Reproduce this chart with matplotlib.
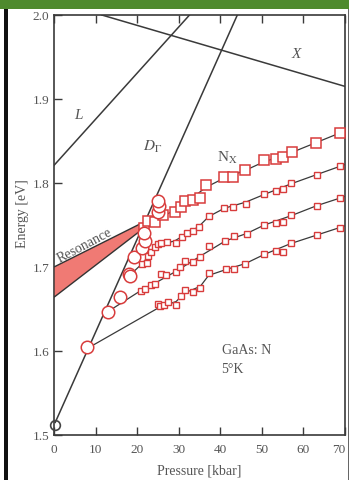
import numpy as np
import matplotlib.pyplot as plt
from matplotlib.patches import Rectangle, Polygon

plt.rcParams['font.family'] = ['Liberation Serif', 'DejaVu Serif']
plt.rcParams['mathtext.fontset'] = 'stix'

# band edges (straight guide lines)
L_P, L_E = [0, 32.6], [1.821, 2.0]
X_P, X_E = [11.5, 70], [2.0, 1.915]
D_P, D_E = [0.3, 44.1], [1.515, 2.0]

# resonance band
res_P = [0, 21, 21, 0]
res_E = [1.700, 1.752, 1.744, 1.664]

# open circles
circ_P = [8.0, 13.0, 15.8, 18.0, 18.2, 19.3, 21.2, 22.0, 21.7, 24.9, 25.3, 25.0]
circ_E = [1.605, 1.647, 1.664, 1.692, 1.689, 1.712, 1.723, 1.731, 1.741, 1.765, 1.773, 1.779]
origin_P, origin_E = [0.3], [1.512]

# N_X (big squares)
s1_P = [21.7, 22.5, 24.2, 26.2, 29.2, 30.6, 31.6, 33.4, 35.2, 36.6, 41.0, 43.0, 46.0,
        50.4, 53.5, 55.2, 57.2, 63.0, 68.8]
s1_E = [1.747, 1.755, 1.754, 1.762, 1.765, 1.771, 1.779, 1.780, 1.782, 1.798, 1.8075, 1.8075,
        1.815, 1.827, 1.828, 1.831, 1.8365, 1.848, 1.860]
# small square series
s2_P = [21.2, 22.3, 22.5, 23.4, 24.2, 25.0, 25.8, 27.3, 29.4, 30.8, 32.1, 33.4, 34.8, 37.2,
        41.0, 43.0, 46.2, 50.4, 53.5, 55.0, 57.0, 63.2, 68.8]
s2_E = [1.704, 1.705, 1.713, 1.718, 1.7235, 1.727, 1.728, 1.730, 1.729, 1.736, 1.740, 1.743,
        1.748, 1.761, 1.770, 1.772, 1.775, 1.7865, 1.790, 1.793, 1.800, 1.810, 1.820]
s3_P = [20.9, 22.0, 23.4, 24.4, 25.7, 27.0, 29.4, 30.2, 31.4, 33.4, 35.2, 37.2, 41.2, 43.2,
        46.4, 50.6, 53.5, 55.2, 57.0, 63.2, 68.8]
s3_E = [1.672, 1.674, 1.678, 1.680, 1.692, 1.690, 1.694, 1.700, 1.7075, 1.706, 1.712, 1.7246,
        1.731, 1.7365, 1.739, 1.750, 1.752, 1.754, 1.762, 1.773, 1.782]
s4_P = [24.9, 25.4, 26.5, 27.4, 29.4, 30.6, 31.4, 33.4, 35.2, 37.2, 41.4, 43.2, 46.0, 50.6,
        53.5, 55.2, 57.0, 63.2, 68.8]
s4_E = [1.656, 1.654, 1.655, 1.658, 1.655, 1.666, 1.673, 1.670, 1.675, 1.6925, 1.6976, 1.698,
        1.7036, 1.716, 1.719, 1.718, 1.728, 1.738, 1.747]

# guide lines through the square series
g1_P = [21, 26, 30, 36.6, 41, 46, 50.4, 57, 63, 70]
g1_E = [1.750, 1.760, 1.770, 1.795, 1.806, 1.815, 1.825, 1.836, 1.848, 1.862]
g2_P = [18.2, 21.2, 25, 29, 34.8, 37.2, 41, 46, 50.4, 57, 63.2, 70]
g2_E = [1.690, 1.704, 1.726, 1.731, 1.748, 1.760, 1.770, 1.777, 1.786, 1.799, 1.810, 1.822]
g3_P = [13, 20.9, 24.4, 29.4, 35.2, 41.2, 46.4, 50.6, 57, 63.2, 70]
g3_E = [1.647, 1.672, 1.681, 1.695, 1.713, 1.731, 1.740, 1.750, 1.761, 1.773, 1.784]
g4_P = [8, 25, 29.4, 31.4, 35.2, 37.2, 41.4, 46, 50.6, 57, 63.2, 70]
g4_E = [1.603, 1.651, 1.659, 1.669, 1.677, 1.690, 1.697, 1.704, 1.715, 1.728, 1.738, 1.749]

xticks = [0, 10, 20, 30, 40, 50, 60, 70]
yticks = [1.5, 1.6, 1.7, 1.8, 1.9, 2.0]

W, H = 349, 481
fig = plt.figure(figsize=(W / 100, H / 100), dpi=100)
ax = fig.add_axes([54 / W, 1 - 436 / H, 291 / W, 420 / H])

lc = '#3a3a3a'
red = '#d83c3c'
txt = '#555555'

for p, e in [(L_P, L_E), (X_P, X_E), (D_P, D_E)]:
    ax.plot(p, e, color=lc, lw=1.1, zorder=2)
for p, e in [(g1_P, g1_E), (g2_P, g2_E), (g3_P, g3_E), (g4_P, g4_E)]:
    ax.plot(p, e, color=lc, lw=0.9, zorder=2)

ax.add_patch(Polygon(list(zip(res_P, res_E)), closed=True, facecolor='#f07a74',
                     edgecolor='#333333', lw=1.0, zorder=3))

ax.plot(s1_P, s1_E, 's', ms=7.5, mfc='white', mec=red, mew=1.1, ls='none', zorder=4)
for p, e in [(s2_P, s2_E), (s3_P, s3_E), (s4_P, s4_E)]:
    ax.plot(p, e, 's', ms=4.5, mfc='white', mec=red, mew=1.0, ls='none', zorder=4)
ax.plot(circ_P, circ_E, 'o', ms=9, mfc='white', mec=red, mew=1.1, ls='none', zorder=5)
ax.plot(origin_P, origin_E, 'o', ms=7, mfc='none', mec='#444444', mew=1.2, ls='none',
        zorder=5, clip_on=False)

ax.set_xlim(0, 70)
ax.set_ylim(1.5, 2.0)
ax.set_xticks(xticks)
ax.set_yticks(yticks)
ax.set_xticklabels([str(t) for t in xticks])
ax.set_yticklabels(['1.5', '1.6', '1.7', '1.8', '1.9', '2.0'])
ax.tick_params(direction='in', length=6, width=1.0, colors=lc, labelcolor=txt,
               labelsize=9.5, top=True, right=False)
ax.tick_params(axis='x', pad=6)
ax.get_xticklabels()[-1].set_horizontalalignment('right')
for s in ax.spines.values():
    s.set_color(lc)
    s.set_linewidth(1.2)

ax.set_xlabel('Pressure [kbar]', color=txt, fontsize=10, labelpad=6)
ax.set_ylabel('Energy [eV]', color=txt, fontsize=10)
ax.yaxis.set_label_coords(-0.085, 0.53)

ax.text(5.8, 1.882, 'L', style='italic', color=txt, fontsize=11, ha='center', va='center')
ax.text(58.2, 1.954, 'X', style='italic', color=txt, fontsize=11, ha='center', va='center')
ax.text(23.8, 1.844, r'$D_{\Gamma}$', color=txt, fontsize=11, ha='center', va='center')
ax.text(41.6, 1.831, r'N$_{\mathrm{X}}$', color=txt, fontsize=11, ha='center', va='center')
ax.text(7.4, 1.727, 'Resonance', color=txt, fontsize=10, ha='center', va='center',
        rotation=28)
ax.text(40.3, 1.602, 'GaAs: N', color=txt, fontsize=10, ha='left', va='center')
ax.text(40.3, 1.579, '5°K', color=txt, fontsize=10, ha='left', va='center')

# frame of the scanned picture
fig.patches.append(Rectangle((0, 1 - 10 / H), 1, 10 / H, transform=fig.transFigure,
                             facecolor='#4e8a2e', edgecolor='none', zorder=0))
fig.patches.append(Rectangle((4 / W, 0), 4 / W, 1 - 10 / H, transform=fig.transFigure,
                             facecolor='#111111', edgecolor='none', zorder=0))
fig.patches.append(Rectangle((347.5 / W, 0), 1.5 / W, 1 - 10 / H, transform=fig.transFigure,
                             facecolor='#666666', edgecolor='none', zorder=0))

fig.savefig('out.png', dpi=100)
